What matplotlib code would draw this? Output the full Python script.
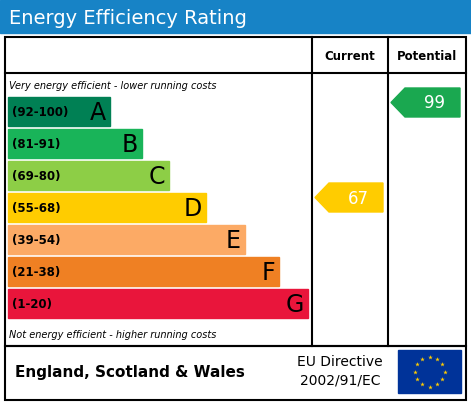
import matplotlib
matplotlib.use('Agg')
import matplotlib.pyplot as plt
from matplotlib.patches import Rectangle, Polygon
import numpy as np

# EPC bands
letters = ['A', 'B', 'C', 'D', 'E', 'F', 'G']
ranges = ['(92-100)', '(81-91)', '(69-80)', '(55-68)', '(39-54)', '(21-38)', '(1-20)']
band_low = [92, 81, 69, 55, 39, 21, 1]
colors = ['#008054', '#19b459', '#8dce46', '#ffcc00', '#fcaa65', '#ef8023', '#e9153b']
arrow_colors = ['#1aa850', '#19b459', '#8dce46', '#ffcc00', '#fcaa65', '#ef8023', '#e9153b']
current = 67
potential = 99

fig = plt.figure(figsize=(4.71, 4.04), dpi=100)
ax = fig.add_axes([0, 0, 1, 1])
ax.set_xlim(0, 471)
ax.set_ylim(404, 0)
ax.axis('off')

# title bar
ax.add_patch(Rectangle((0, 0), 471, 33, color='#1783c6'))
ax.text(9, 18, 'Energy Efficiency Rating', color='white', fontsize=14, va='center')

# frames
lw = 1.5
ax.add_patch(Rectangle((5, 37), 461, 309, fill=False, lw=lw, ec='black'))
ax.add_patch(Rectangle((5, 346), 461, 54, fill=False, lw=lw, ec='black'))
ax.plot([312, 312], [37, 346], color='black', lw=lw)
ax.plot([388, 388], [37, 346], color='black', lw=lw)
ax.plot([5, 466], [73, 73], color='black', lw=lw)
ax.text(350, 57, 'Current', fontsize=8.5, fontweight='bold', ha='center', va='center')
ax.text(427, 57, 'Potential', fontsize=8.5, fontweight='bold', ha='center', va='center')

ax.text(9, 86, 'Very energy efficient - lower running costs', fontsize=7, style='italic', va='center')
ax.text(9, 335, 'Not energy efficient - higher running costs', fontsize=7, style='italic', va='center')

# bars
top0, step, h = 97, 32, 29
bar_right = [110, 142, 169, 206, 245, 279, 308]
for i, (let, rng, col) in enumerate(zip(letters, ranges, colors)):
    y = top0 + i * step
    right = bar_right[i]
    ax.add_patch(Rectangle((8, y), right - 8, h, color=col))
    ax.text(12, y + h / 2 + 1, rng, fontsize=8.5, fontweight='bold',
            color='black', va='center')
    ax.text(right - 4, y + h / 2 + 1, let, fontsize=17, ha='right', va='center',
            color='black')


def band_of(score):
    for i, lo in enumerate(band_low):
        if score >= lo:
            return i
    return len(band_low) - 1


def arrow(x0, x1, score, dy=0):
    i = band_of(score)
    y = top0 + i * step + dy
    col = arrow_colors[i]
    pts = [(x0, y + h / 2), (x0 + 14, y), (x1, y), (x1, y + h), (x0 + 14, y + h)]
    ax.add_patch(Polygon(pts, closed=True, color=col))
    ax.text((x0 + 14 + x1) / 2 + 2, y + h / 2 + 1, str(score), fontsize=12,
            color='white', ha='center', va='center')


arrow(315, 383, current, dy=-10)
arrow(391, 460, potential, dy=-9)

# footer
ax.text(15, 373, 'England, Scotland & Wales', fontsize=11, fontweight='bold', va='center')
ax.text(340, 362, 'EU Directive', fontsize=10, ha='center', va='center')
ax.text(340, 381, '2002/91/EC', fontsize=10, ha='center', va='center')
ax.add_patch(Rectangle((398, 350), 63, 43, color='#003399'))
ang = np.linspace(0, 2 * np.pi, 13)[:-1]
ax.scatter(429.5 + 15 * np.cos(ang), 371.5 + 15 * np.sin(ang), marker='*',
           s=12, color='#ffcc00', lw=0)

fig.savefig('out.png', dpi=100)
